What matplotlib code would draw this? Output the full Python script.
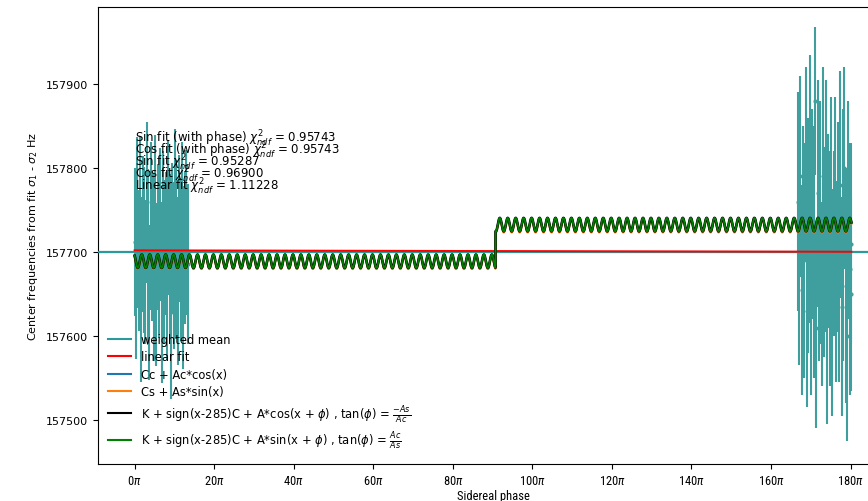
import numpy as np
import matplotlib
matplotlib.use("Agg")
import matplotlib.pyplot as plt
from matplotlib import font_manager

# ---- measurements (sidereal phase in units of pi) ----
x_left_pi = [0.0, 0.3, 0.7, 1.0, 1.4, 1.7, 2.0, 2.4, 2.7, 3.1, 3.4, 3.7, 4.1, 4.4,
             4.8, 5.1, 5.4, 5.8, 6.1, 6.5, 6.8, 7.1, 7.5, 7.8, 8.2, 8.5, 8.8, 9.2,
             9.5, 9.9, 10.2, 10.5, 10.9, 11.2, 11.6, 11.9, 12.2, 12.6, 12.9, 13.3]
y_left = [157712, 157668, 157735, 157690, 157748, 157655, 157721, 157702, 157676,
          157759, 157694, 157640, 157731, 157707, 157682, 157745, 157661, 157718,
          157699, 157733, 157652, 157725, 157688, 157710, 157674, 157741, 157697,
          157629, 157716, 157684, 157752, 157703, 157665, 157728, 157691, 157738,
          157670, 157705, 157723, 157686]
err_left = [88, 95, 102, 84, 90, 110, 93, 99, 86, 96, 105, 92, 100, 89, 112, 94, 97,
            87, 101, 91, 108, 95, 98, 85, 103, 92, 96, 104, 90, 99, 94, 107, 100, 88,
            97, 93, 109, 91, 98, 95]

x_right_pi = [166.8, 167.1, 167.4, 167.8, 168.1, 168.4, 168.8, 169.1, 169.4, 169.8,
              170.1, 170.4, 170.8, 171.1, 171.4, 171.8, 172.1, 172.4, 172.8, 173.1,
              173.4, 173.8, 174.1, 174.4, 174.8, 175.1, 175.4, 175.8, 176.1, 176.4,
              176.8, 177.1, 177.4, 177.8, 178.1, 178.4, 178.8, 179.1, 179.4, 179.8,
              180.0, 180.2]
y_right = [157760, 157715, 157790, 157655, 157740, 157690, 157805, 157630, 157720,
           157775, 157660, 157745, 157700, 157880, 157610, 157770, 157690, 157735,
           157650, 157790, 157700, 157755, 157620, 157725, 157680, 157765, 157640,
           157710, 157745, 157665, 157730, 157690, 157780, 157635, 157720, 157800,
           157660, 157600, 157750, 157680, 157710, 157650]
err_right = [130, 150, 120, 125, 110, 140, 115, 115, 140, 160, 130, 125, 150, 88,
             120, 135, 120, 145, 110, 130, 125, 150, 125, 115, 140, 120, 135, 110,
             140, 120, 125, 145, 135, 130, 150, 120, 140, 125, 130, 150, 120, 115]

# ---- fit results ----
weighted_mean = 157700.0
lin_intercept = 157702.0
lin_slope = -0.003            # Hz per radian
step_at = 285.0
K_fit, C_fit, A_fit, phi_cos = 157710.8, 21.8, 8.0, 0.6
phi_sin = phi_cos + np.pi / 2
K_cc, C_cc, A_cc = 157710.3, 21.8, 8.0
K_cs, C_cs, A_cs = 157709.4, 21.8, 8.0

chi_labels = ["Sin fit (with phase)", "Cos fit (with phase)", "Sin fit", "Cos fit",
              "Linear fit"]
chi_values = [0.95743, 0.95743, 0.95287, 0.96900, 1.11228]

tick_multiples = [0, 20, 40, 60, 80, 100, 120, 140, 160, 180]

# ---- fonts ----
available = {f.name for f in font_manager.fontManager.ttflist}
narrow = next((c for c in ["Roboto Condensed", "Liberation Sans Narrow",
                           "Archivo Narrow"] if c in available), None)

plt.rcParams["font.size"] = 8
plt.rcParams["mathtext.fontset"] = "dejavusans"
if narrow:
    plt.rcParams["mathtext.rm"] = narrow
    plt.rcParams["mathtext.it"] = narrow + ":italic"
    plt.rcParams["mathtext.bf"] = narrow + ":bold"

fig = plt.figure(figsize=(8.68, 5.02), dpi=100)
ax = fig.add_axes([98 / 868, 37 / 502, 790 / 868, 457 / 502])

x_data = np.array(x_left_pi + x_right_pi) * np.pi
y_data = np.array(y_left + y_right, dtype=float)
e_data = np.array(err_left + err_right, dtype=float)

data_color = "#3f9e9e"
ax.errorbar(x_data, y_data, yerr=e_data, fmt=".", color=data_color, ms=4,
            elinewidth=1.5, capsize=0, zorder=2)

ax.axhline(weighted_mean, color="#2a9a9a", lw=1.6, label="weighted mean", zorder=3)

x_fit = np.linspace(0, x_data.max(), 6000)
ax.plot(x_fit, lin_intercept + lin_slope * x_fit, color="red", lw=1.4,
        label="linear fit", zorder=3)


def stepped(x, K, C, A, phase, fn):
    return K + np.sign(x - step_at) * C + A * fn(x + phase)


ax.plot(x_fit, stepped(x_fit, K_cc, C_cc, A_cc, 0.6, np.cos), color="#1f77b4",
        lw=1.5, label="Cc + Ac*cos(x)", zorder=3)
ax.plot(x_fit, stepped(x_fit, K_cs, C_cs, A_cs, 0.6, np.cos), color="#ff7f0e",
        lw=1.5, label="Cs + As*sin(x)", zorder=3)
ax.plot(x_fit, stepped(x_fit, K_fit, C_fit, A_fit, phi_cos, np.cos), color="black",
        lw=1.9, label=r"K + sign(x-285)C + A*cos(x + $\phi$) , tan($\phi$) = $\frac{-As}{Ac}$",
        zorder=4)
ax.plot(x_fit, stepped(x_fit, K_fit, C_fit, A_fit, phi_sin, np.sin), color="green",
        lw=1.3, label=r"K + sign(x-285)C + A*sin(x + $\phi$) , tan($\phi$) = $\frac{Ac}{As}$",
        zorder=5)

# goodness-of-fit summary, one line per model, tightly stacked
chi_baselines = [157831.3, 157816.8, 157802.6, 157788.4, 157773.5]
for lab, val, yb in zip(chi_labels, chi_values, chi_baselines):
    ax.text(0, yb, f"{lab} $\\chi^2_{{ndf}}$ = {val:.5f}", fontsize=8.5,
            ha="left", va="baseline", zorder=6)

leg = ax.legend(loc="lower left", frameon=False, fontsize=8.3, labelspacing=0.4,
                bbox_to_anchor=(0.0, 0.006))
for line in leg.get_lines():
    line.set_linewidth(1.5)

ax.set_xlim(-9.2 * np.pi, 189.4 * np.pi)
ax.set_ylim(157447.6, 157991.7)
ax.set_yticks([157500, 157600, 157700, 157800, 157900])

tick_font = dict(fontsize=9)
if narrow:
    tick_font["family"] = narrow
    tick_font["math_fontfamily"] = "custom"
ax.set_xticks([m * np.pi for m in tick_multiples],
              [f"${m}\\pi$" for m in tick_multiples], **tick_font)
label_font = dict(fontsize=9)
if narrow:
    label_font["family"] = narrow
ax.set_xlabel("Sidereal phase", labelpad=2, **label_font)
ax.set_ylabel(r"Center frequencies from fit $\sigma_1$ - $\sigma_2$ Hz", fontsize=8)

fig.savefig("out.png", dpi=100)
